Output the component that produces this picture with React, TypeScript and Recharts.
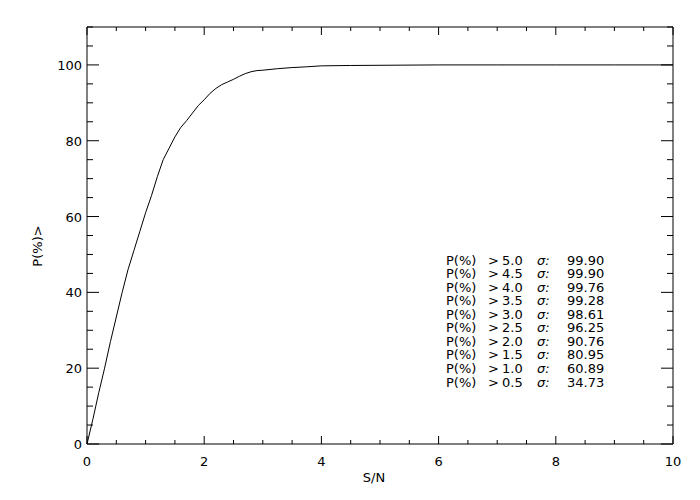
import React from 'react';
import { LineChart, Line, XAxis, YAxis, ReferenceLine } from 'recharts';

// S/N values and cumulative percentage
const snValues = [
  0, 0.1, 0.2, 0.3, 0.4, 0.5, 0.6, 0.7, 0.8, 0.9, 1.0, 1.1, 1.2, 1.3, 1.4, 1.5, 1.6, 1.7, 1.8, 1.9,
  2.0, 2.1, 2.2, 2.3, 2.4, 2.5, 2.6, 2.7, 2.8, 2.9, 3.0, 3.25, 3.5, 3.75, 4.0, 4.5, 5.0, 6, 7, 8, 9, 10,
];
const pctValues = [
  0, 6.5, 13.5, 20, 27, 33.5, 40, 46, 51, 56, 61, 65.5, 70.5, 75, 78, 81, 83.5, 85.3, 87.3, 89.3,
  90.8, 92.5, 93.8, 94.8, 95.5, 96.2, 97, 97.7, 98.2, 98.5, 98.6, 99.0, 99.3, 99.5, 99.75, 99.85, 99.9, 100, 100, 100, 100, 100,
];

// summary table
const sigmaLevels = ['5.0', '4.5', '4.0', '3.5', '3.0', '2.5', '2.0', '1.5', '1.0', '0.5'];
const sigmaPercents = ['99.90', '99.90', '99.76', '99.28', '98.61', '96.25', '90.76', '80.95', '60.89', '34.73'];

const xTicks = [0, 0.5, 1, 1.5, 2, 2.5, 3, 3.5, 4, 4.5, 5, 5.5, 6, 6.5, 7, 7.5, 8, 8.5, 9, 9.5, 10];
const xMajor = [0, 2, 4, 6, 8, 10];
const yTicks = [0, 5, 10, 15, 20, 25, 30, 35, 40, 45, 50, 55, 60, 65, 70, 75, 80, 85, 90, 95, 100, 105, 110];
const yMajor = [0, 20, 40, 60, 80, 100];

const data = snValues.map((sn, i) => ({ sn, pct: pctValues[i] }));

const W = 700;
const H = 500;
const M = { top: 19, right: 35, left: 0, bottom: 0 };
const Y_AXIS_W = 79;
const X_AXIS_H = 64;
const PW = W - M.right - Y_AXIS_W; // plot width
const PH = H - M.top - X_AXIS_H; // plot height

const FONT = '"DejaVu Sans", sans-serif';

const XTick = (props: any) => {
  const { x, y, payload } = props;
  const major = xMajor.includes(payload.value);
  const len = major ? 8 : 4;
  return (
    <g>
      <line x1={x} y1={y} x2={x} y2={y - len} stroke="#000" />
      <line x1={x} y1={y - PH} x2={x} y2={y - PH + len} stroke="#000" />
      {major && (
        <text x={x} y={y + 22} textAnchor="middle" fontSize={13} fontFamily={FONT} fill="#000">
          {payload.value}
        </text>
      )}
    </g>
  );
};

const YTick = (props: any) => {
  const { x, y, payload } = props;
  const major = yMajor.includes(payload.value);
  const len = major ? 12 : 6;
  return (
    <g>
      <line x1={x} y1={y} x2={x + len} y2={y} stroke="#000" />
      <line x1={x + PW} y1={y} x2={x + PW - len} y2={y} stroke="#000" />
      {major && (
        <text x={x - 5} y={y + 5} textAnchor="end" fontSize={13} fontFamily={FONT} fill="#000">
          {payload.value}
        </text>
      )}
    </g>
  );
};

export default function App() {
  return (
    <div style={{ position: 'relative', width: W, height: H, background: '#fff' }}>
      <LineChart width={W} height={H} data={data} margin={M}>
        <XAxis
          dataKey="sn"
          type="number"
          domain={[0, 10]}
          ticks={xTicks}
          interval={0}
          height={X_AXIS_H}
          tickSize={0}
          tickMargin={0}
          tickLine={false}
          axisLine={{ stroke: '#000' }}
          tick={<XTick />}
        />
        <YAxis
          type="number"
          domain={[0, 110]}
          ticks={yTicks}
          interval={0}
          width={Y_AXIS_W}
          tickSize={0}
          tickMargin={0}
          tickLine={false}
          axisLine={{ stroke: '#000' }}
          tick={<YTick />}
        />
        <ReferenceLine y={110} stroke="#000" />
        <ReferenceLine x={10} stroke="#000" />
        <Line
          type="linear"
          dataKey="pct"
          stroke="#000"
          strokeWidth={1}
          dot={false}
          isAnimationActive={false}
        />
      </LineChart>
      <svg
        width={W}
        height={H}
        style={{ position: 'absolute', left: 0, top: 0, pointerEvents: 'none' }}
        fontFamily={FONT}
        fontSize={13}
      >
        <text x={366} y={474} textAnchor="middle" fill="#000">S/N</text>
        <text x={34} y={238} textAnchor="middle" fill="#000" transform="rotate(-90 34 238)">
          P(%)&gt;
        </text>
        {sigmaLevels.map((lvl, i) => {
          const y = 256.5 + i * 13.56;
          return (
            <g key={lvl}>
              <text x={438} y={y} fill="#000">P(%)</text>
              <text x={480} y={y} fill="#000">&gt;</text>
              <text x={494} y={y} fill="#000">{lvl}</text>
              <text x={529} y={y} fill="#000" fontStyle="italic">σ:</text>
              <text x={559} y={y} fill="#000">{sigmaPercents[i]}</text>
            </g>
          );
        })}
      </svg>
    </div>
  );
}
